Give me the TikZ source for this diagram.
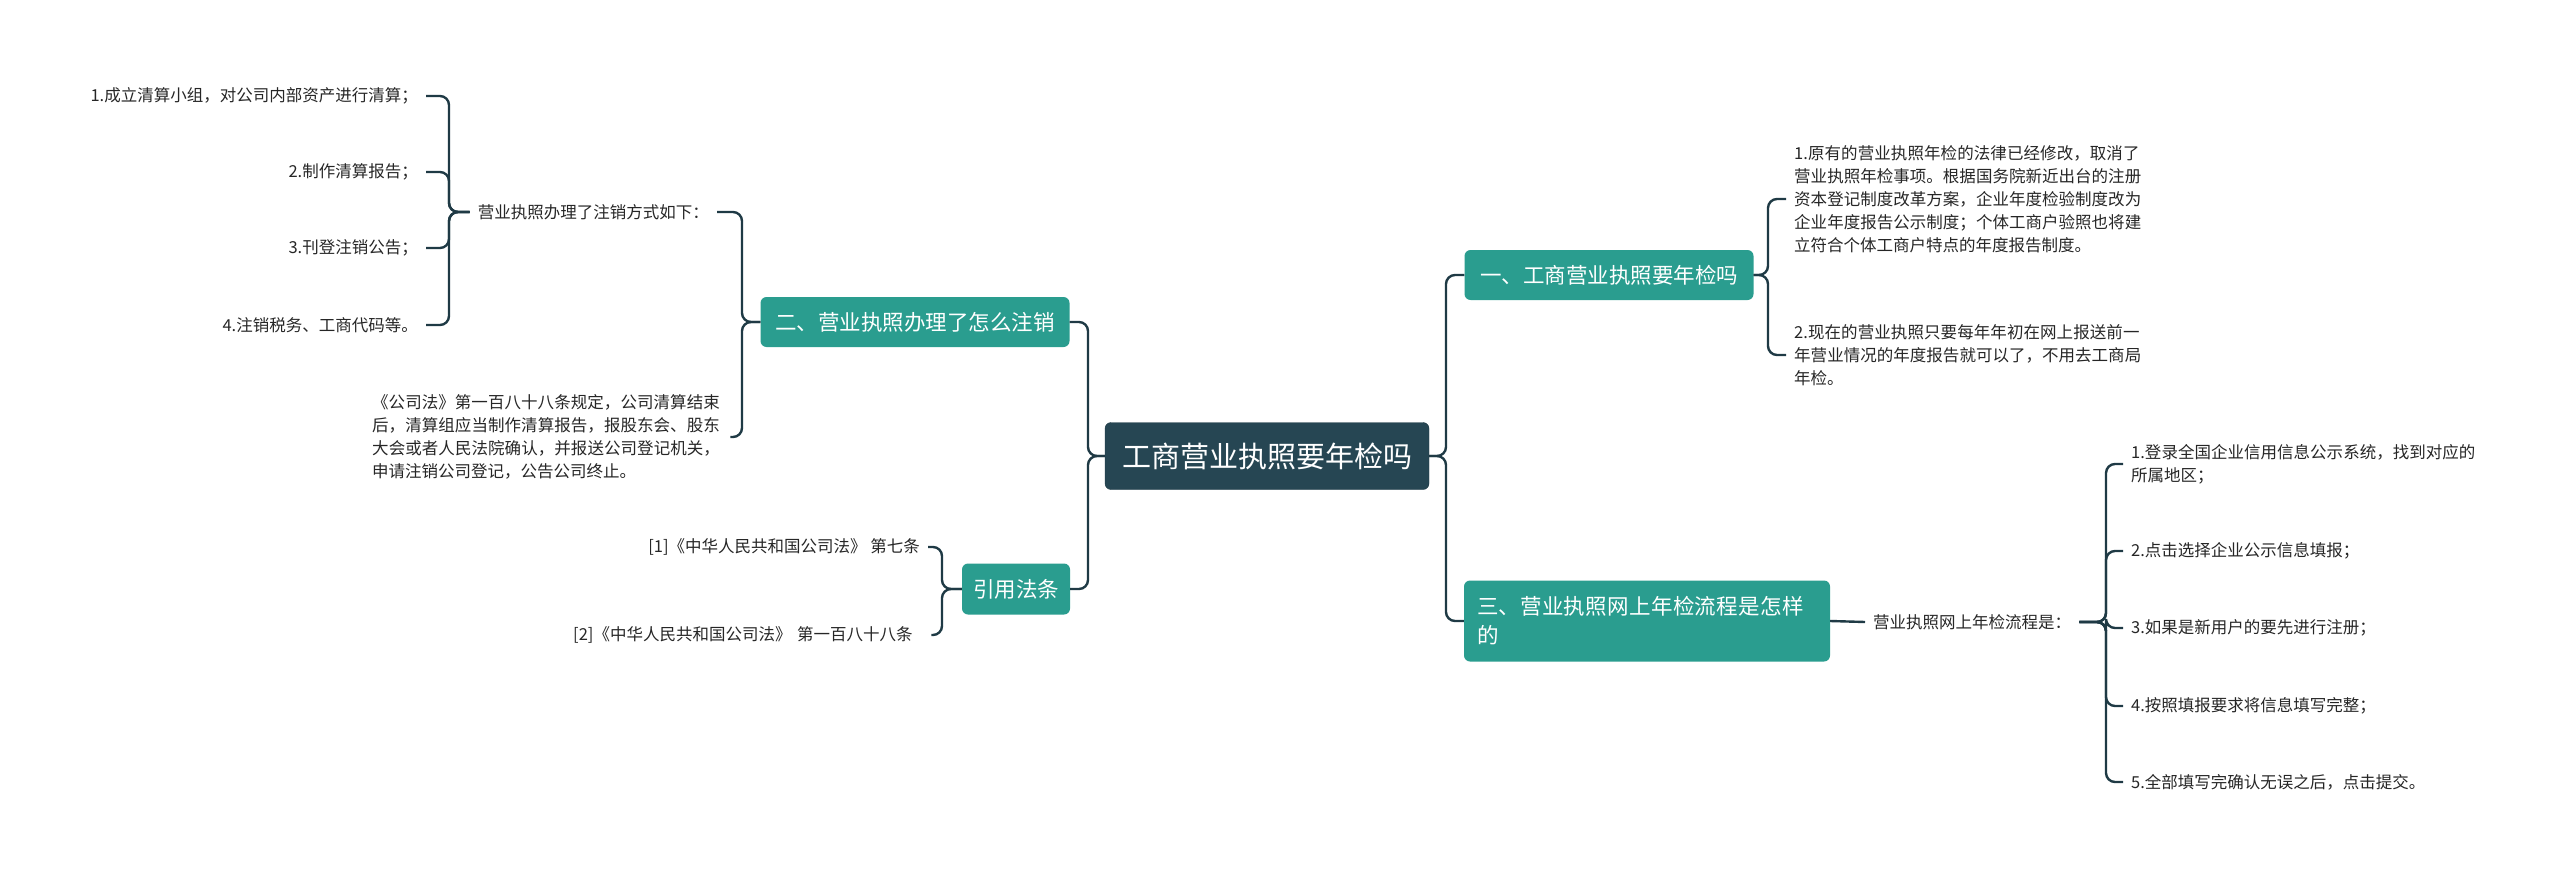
\documentclass[tikz,border=0pt]{standalone}
\usepackage{fontspec}
\setmainfont{Noto Sans CJK SC}
\XeTeXlinebreaklocale "zh"
\XeTeXlinebreakskip = 0pt plus 1pt
\usetikzlibrary{positioning,calc}

\definecolor{rootcol}{HTML}{264653}
\definecolor{branchcol}{HTML}{2A9D8F}
\definecolor{linkcol}{HTML}{1F3A45}

\tikzset{
  rootbox/.style = {fill=rootcol, draw=linkcol, rounded corners=6pt, text=white,
    font=\fontsize{29}{34}\selectfont, inner sep=0pt},
  branchbox/.style = {fill=branchcol, rounded corners=6pt, text=white,
    font=\fontsize{21.5}{29}\selectfont, inner sep=0pt},
  leaf/.style = {font=\fontsize{16.5}{23}\selectfont, text=black!85, inner xsep=8pt, inner ysep=2pt},
  link/.style = {draw=linkcol, line width=2.4pt, rounded corners=9pt}
}

\begin{document}
\begin{tikzpicture}[x=1pt, y=-1pt]
\useasboundingbox (0,0) rectangle (2560,875);

% centre and main branches
\node[rootbox, minimum width=324pt, minimum height=67pt] (root) at (1267,456) {工商营业执照要年检吗};
\node[branchbox, minimum width=289pt, minimum height=50pt] (b1) at (1609,275) {一、工商营业执照要年检吗};
\node[branchbox, minimum width=366pt, minimum height=81pt, text width=340pt, align=left] (b3) at (1647,621) {三、营业执照网上年检流程是怎样的};
\node[branchbox, minimum width=309pt, minimum height=50pt] (b2) at (915,322) {二、营业执照办理了怎么注销};
\node[branchbox, minimum width=108pt, minimum height=51pt] (b4) at (1016,589) {引用法条};

% right side leaves
\node[leaf, anchor=west, text width=348pt, align=left] (t1) at (1786,199) {1.原有的营业执照年检的法律已经修改，取消了营业执照年检事项。根据国务院新近出台的注册资本登记制度改革方案，企业年度检验制度改为企业年度报告公示制度；个体工商户验照也将建立符合个体工商户特点的年度报告制度。};
\node[leaf, anchor=west, text width=348pt, align=left] (t2) at (1786,355) {2.现在的营业执照只要每年年初在网上报送前一年营业情况的年度报告就可以了，不用去工商局年检。};
\node[leaf, anchor=west] (k0) at (1865,622) {营业执照网上年检流程是：};
\node[leaf, anchor=west, text width=345pt, align=left] (s1) at (2123,464) {1.登录全国企业信用信息公示系统，找到对应的所属地区；};
\node[leaf, anchor=west] (s2) at (2123,551) {2.点击选择企业公示信息填报；};
\node[leaf, anchor=west] (s3) at (2123,628) {3.如果是新用户的要先进行注册；};
\node[leaf, anchor=west] (s4) at (2123,706) {4.按照填报要求将信息填写完整；};
\node[leaf, anchor=west] (s5) at (2123,782) {5.全部填写完确认无误之后，点击提交。};

% left side leaves
\node[leaf, anchor=east] (m0) at (717,212) {营业执照办理了注销方式如下：};
\node[leaf, anchor=west, text width=350pt, align=left] (p0) at (364,437) {《公司法》第一百八十八条规定，公司清算结束后，清算组应当制作清算报告，报股东会、股东大会或者人民法院确认，并报送公司登记机关，申请注销公司登记，公告公司终止。};
\node[leaf, anchor=east] (a1) at (426,96) {1.成立清算小组，对公司内部资产进行清算；};
\node[leaf, anchor=east] (a2) at (426,172) {2.制作清算报告；};
\node[leaf, anchor=east] (a3) at (426,248) {3.刊登注销公告；};
\node[leaf, anchor=east] (a4) at (426,325) {4.注销税务、工商代码等。};
\node[leaf, anchor=east] (r1) at (928,547) {[1]《中华人民共和国公司法》 第七条};
\node[leaf, anchor=west, text width=350pt, align=left] (r2) at (565,635) {[2]《中华人民共和国公司法》 第一百八十八条};

% joints
\coordinate (jr) at (1446,456);
\coordinate (jl) at (1088,456);
\coordinate (j1) at (1768,275);
\coordinate (jk) at (2106,622);
\coordinate (j2) at (742,322);
\coordinate (jm) at (449,212);
\coordinate (j4) at (942,589);

% connectors
\foreach \n in {b1,b3} \draw[link] (root.east) -- (jr) |- (\n.west);
\foreach \n in {b2,b4} \draw[link] (root.west) -- (jl) |- (\n.east);
\foreach \n in {t1,t2} \draw[link] (b1.east) -- (j1) |- (\n.west);
\draw[link] (b3.east) -- (k0.west);
\foreach \n in {s1,s2,s3,s4,s5} \draw[link] (k0.east) -- (jk) |- (\n.west);
\foreach \n in {m0,p0} \draw[link] (b2.west) -- (j2) |- (\n.east);
\foreach \n in {a1,a2,a3,a4} \draw[link] (m0.west) -- (jm) |- (\n.east);
\foreach \n in {r1,r2} \draw[link] (b4.west) -- (j4) |- (\n.east);
\end{tikzpicture}
\end{document}
